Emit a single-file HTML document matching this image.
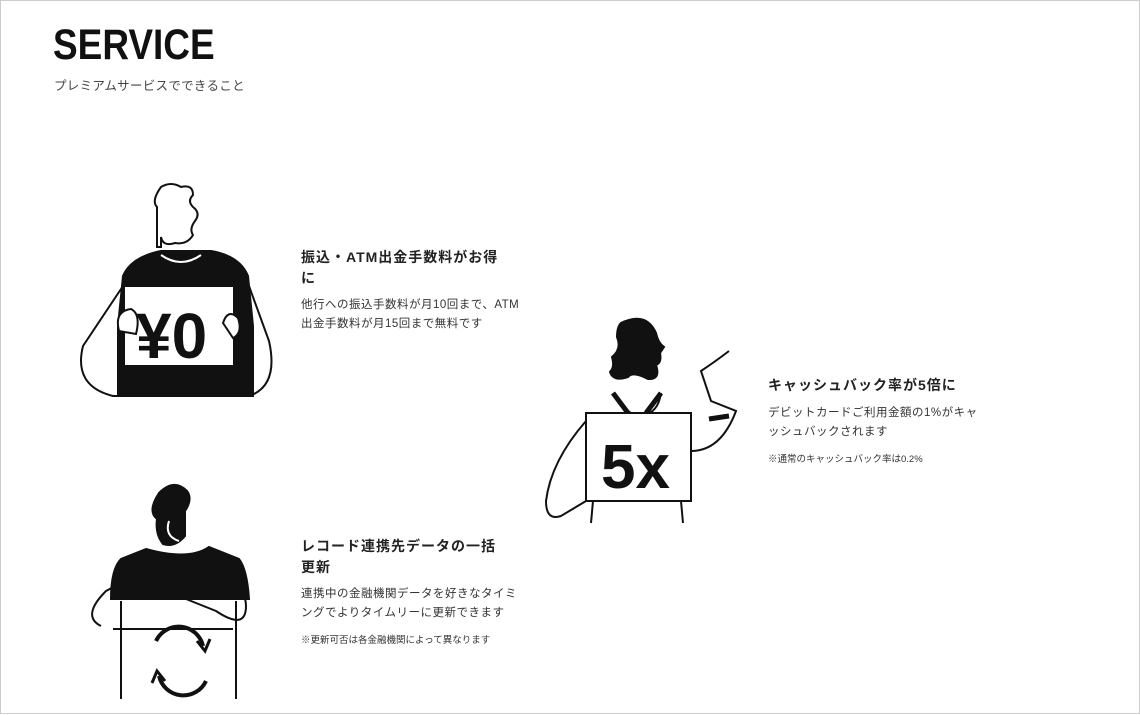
<!DOCTYPE html>
<html><head><meta charset="utf-8"><style>
html,body{margin:0;padding:0;background:#fff}
body{width:1138px;height:712px;border:1px solid #ccc;position:relative;overflow:hidden;font-family:"Liberation Sans","Noto Sans CJK JP",sans-serif;color:#222}
.a{position:absolute;white-space:nowrap}
h1{position:absolute;left:52px;top:20px;margin:0;font-size:43px;font-weight:bold;color:#111;transform:scaleX(0.86);transform-origin:0 0}
.sub{left:53px;top:74px;font-size:12.5px;color:#444;letter-spacing:0.3px}
.h{font-size:14px;font-weight:bold;line-height:21px;letter-spacing:1px;color:#222}
.b{font-size:11.5px;line-height:19px;color:#333;letter-spacing:0.5px}
.n{font-size:9.5px;color:#333}
svg{position:absolute;left:0;top:0}
</style></head><body>
<h1>SERVICE</h1>
<div class="a sub">プレミアムサービスでできること</div>

<div class="a h" style="left:300px;top:246px">振込・ATM出金手数料がお得<br>に</div>
<div class="a b" style="left:300px;top:295px">他行への振込手数料が月10回まで、ATM<br>出金手数料が月15回まで無料です</div>

<div class="a h" style="left:767px;top:374px">キャッシュバック率が5倍に</div>
<div class="a b" style="left:767px;top:403px">デビットカードご利用金額の1%がキャ<br>ッシュバックされます</div>
<div class="a n" style="left:767px;top:450px">※通常のキャッシュバック率は0.2%</div>

<div class="a h" style="left:300px;top:535px">レコード連携先データの一括<br>更新</div>
<div class="a b" style="left:300px;top:584px">連携中の金融機関データを好きなタイミ<br>ングでよりタイムリーに更新できます</div>
<div class="a n" style="left:300px;top:631px">※更新可否は各金融機関によって異なります</div>

<svg width="1140" height="714" viewBox="0 0 1140 714" fill="none" stroke="#111" stroke-width="2">
<!-- figure 1 -->
<path d="M160 186 q10 -6 20 0 q12 -3 12 8 q-6 6 0 12 q8 6 2 14 q-6 8 -2 14 q-6 10 -18 8 q-12 4 -14 -6 l0 10 l-4 0 l0 -40 q-6 -6 4 -20z"/>
<path d="M160 250 q-30 6 -38 25 l-5 50 l0 70 l135 0 l0 -70 l-5 -50 q-8 -20 -37 -25z" fill="#111"/>
<path d="M160 254 q20 14 40 0" stroke="#fff"/>
<path d="M122 285 l-40 60 q-10 40 30 50 l10 0 M248 285 l20 55 q10 45 -20 55"/>
<rect x="123" y="285" width="110" height="80" fill="#fff"/>
<path d="M118 330 q-5 -20 12 -22 q10 5 5 25z M222 322 q5 -15 15 -5 q5 15 -5 20z" fill="#fff"/>
<text x="135" y="357" font-family="Liberation Sans,sans-serif" font-weight="bold" font-size="64" fill="#111" stroke="none">¥0</text>
<!-- figure 2 -->
<path d="M620 322 q25 -12 35 10 q2 10 8 14 l-4 6 q2 10 -4 12 q5 15 -8 14 q-15 -8 -20 -2 q-15 5 -18 -5 q5 -5 2 -15 q10 -8 5 -20 q0 -10 4 -14z" fill="#111"/>
<path d="M612 392 q15 25 30 22 q15 -2 18 -22" />
<path d="M612 392 l15 20 M660 392 l-15 20" stroke-width="5"/>
<path d="M585 420 q-35 40 -40 80 q0 20 15 15 l25 -15 M690 450 q30 0 45 -40 l-25 -10 l-10 -30 q15 -10 28 -20" />
<rect x="585" y="412" width="105" height="88" fill="#fff"/>
<text x="600" y="487" font-family="Liberation Sans,sans-serif" font-weight="bold" font-size="62" fill="#111" stroke="none">5x</text>
<path d="M592 500 l-2 22 M680 500 l2 22"/>
<path d="M708 418 l20 -3" stroke-width="5"/>
<!-- figure 3 -->
<path d="M158 492 q15 -15 28 -2 q6 8 -2 20 l0 25 q-10 12 -22 8 q-8 -10 -6 -25 q-10 -8 2 -26z" fill="#111"/>
<path d="M168 520 q-5 15 10 20" stroke="#fff"/>
<path d="M145 548 l-25 10 q-10 10 -10 40 l138 0 q-2 -30 -10 -40 l-30 -12 q-20 14 -63 2z" fill="#111"/>
<path d="M120 600 l0 98 M235 600 l0 98"/>
<path d="M100 625 q-20 -10 5 -35 q25 -15 60 0 l50 20 q30 20 30 -5 q0 -15 -15 -20 M112 628 l120 0"/>
<path d="M155 640 a25 25 0 0 1 47 5 M205 680 a25 25 0 0 1 -47 -5" stroke-width="4"/>
<path d="M196 640 l8 10 l5 -12 M164 680 l-8 -10 l-5 12" stroke-width="3"/>
</svg>
</body></html>
